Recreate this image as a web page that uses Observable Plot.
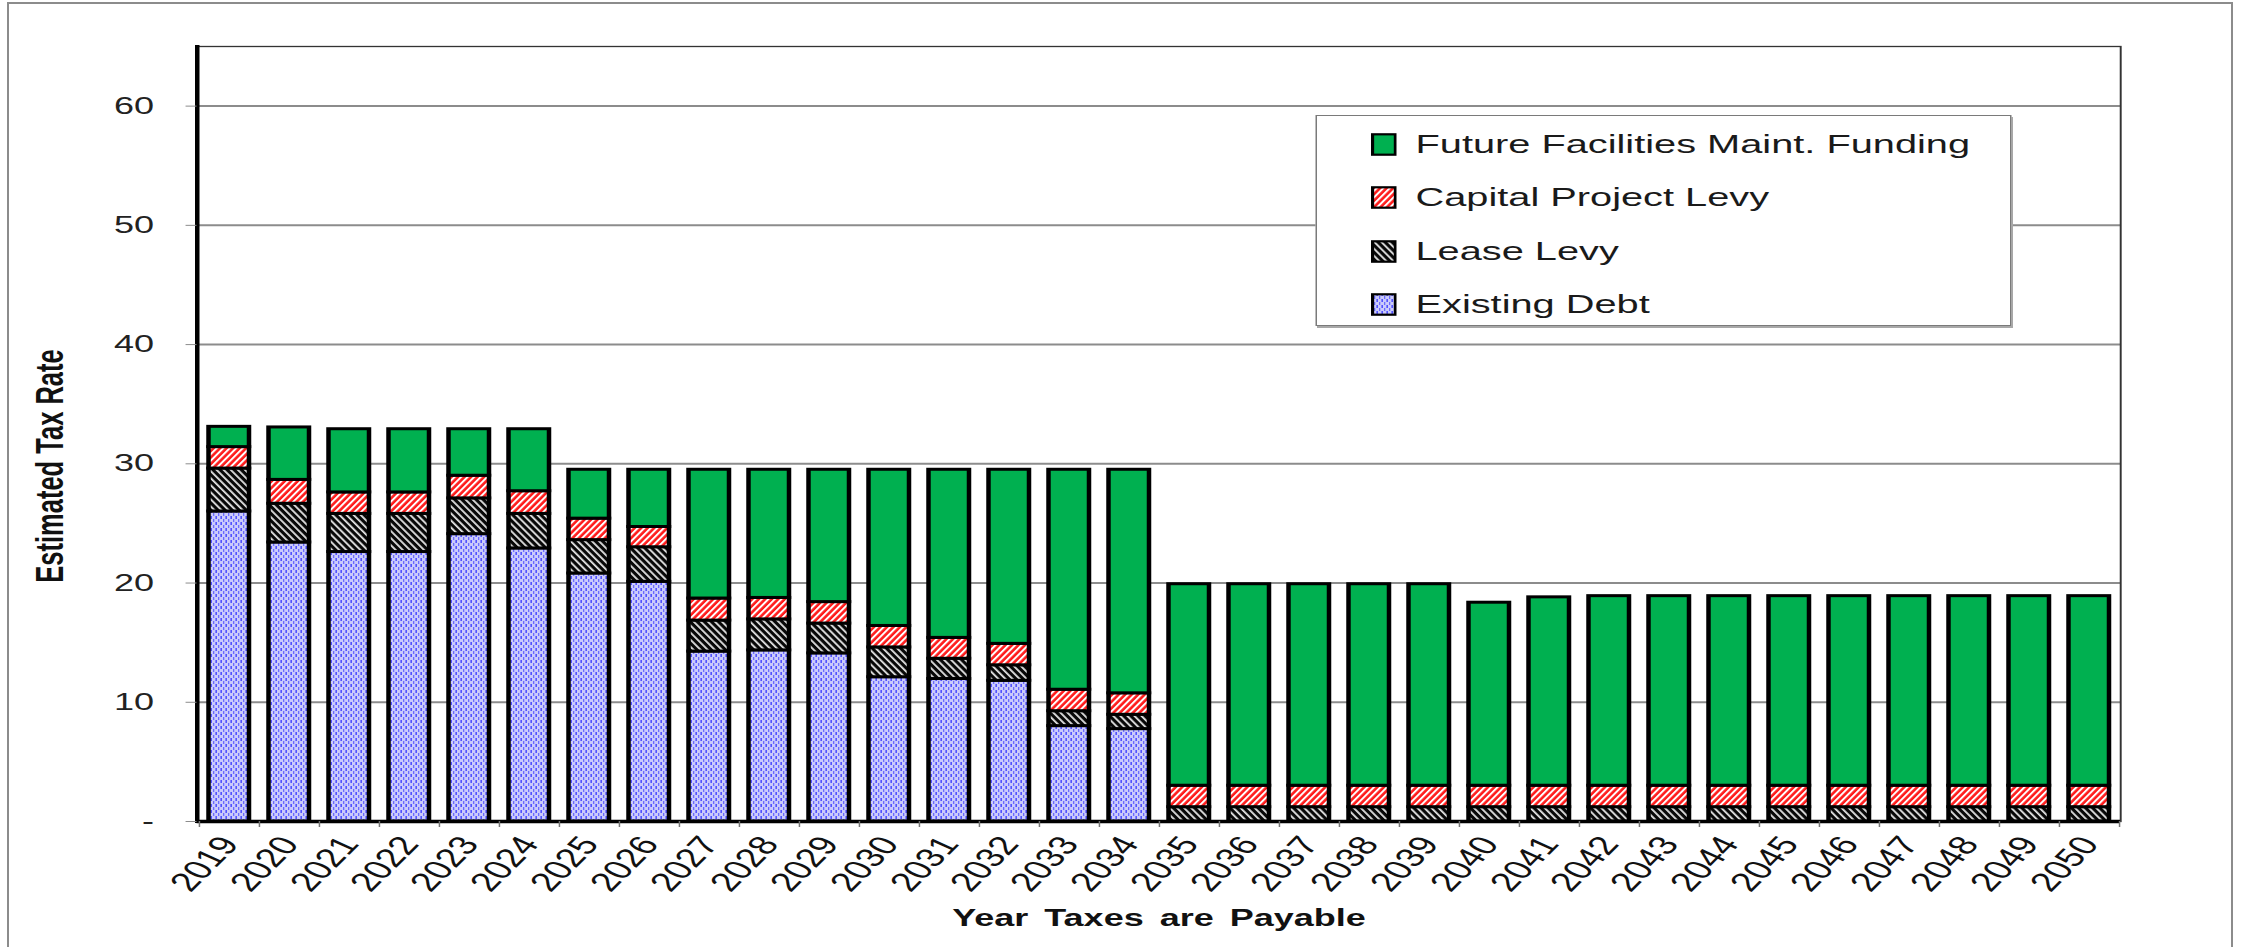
<!DOCTYPE html>
<html>
<head>
<meta charset="utf-8">
<script src="https://cdn.jsdelivr.net/npm/d3@7"></script>
<script src="https://cdn.jsdelivr.net/npm/@observablehq/plot@0.6"></script>
<style>
  html, body { margin: 0; padding: 0; background: #fff; }
  #page { position: relative; width: 2244px; height: 947px; overflow: hidden; background: #fff; }
  #border { position: absolute; left: 7px; top: 2px; width: 2226px; height: 1000px; box-sizing: border-box;
            border: 2px solid #8c8c8c; border-bottom: none; }
  #stretch { position: absolute; left: 0; top: 0; width: 1496px; height: 947px; transform: scaleX(1.5); transform-origin: 0 0; }
  #legend { position: absolute; left: 876.7px; top: 114.5px; width: 464.7px; height: 211.5px; box-sizing: border-box;
            border: 1.3px solid #7a7a7a; box-shadow: 1px 2px 0 #a8a8a8; background: #fff;
            font-family: "Liberation Sans", Arial, sans-serif; font-size: 26.5px; color: #1a1a1a; }
  .row { position: absolute; left: 36px; height: 30px; display: flex; align-items: center; white-space: nowrap; }
  .row svg { display: block; margin-right: 12.7px; }
</style>
</head>
<body>
<div id="page">
  <div id="border"></div>
  <div id="stretch"><div id="legend"></div></div>
</div>
<script>
// ---- data ----
const years = [2019, 2020, 2021, 2022, 2023, 2024, 2025, 2026, 2027, 2028, 2029, 2030, 2031, 2032, 2033, 2034,
               2035, 2036, 2037, 2038, 2039, 2040, 2041, 2042, 2043, 2044, 2045, 2046, 2047, 2048, 2049, 2050];
const existingDebt = [26.0, 23.4, 22.6, 22.6, 24.1, 22.9, 20.8, 20.1, 14.25, 14.35, 14.1, 12.1, 11.95, 11.8, 8.0, 7.75,
                      0, 0, 0, 0, 0, 0, 0, 0, 0, 0, 0, 0, 0, 0, 0, 0];
const leaseLevy = [3.6, 3.25, 3.2, 3.2, 3.0, 2.9, 2.8, 2.9, 2.6, 2.6, 2.5, 2.5, 1.7, 1.3, 1.25, 1.2,
                   1.2, 1.2, 1.2, 1.2, 1.2, 1.2, 1.2, 1.2, 1.2, 1.2, 1.2, 1.2, 1.2, 1.2, 1.2, 1.2];
const capitalProjectLevy = [1.8, 2.0, 1.8, 1.8, 1.9, 1.9, 1.8, 1.7, 1.85, 1.8, 1.8, 1.8, 1.75, 1.8, 1.8, 1.8,
                            1.8, 1.8, 1.8, 1.8, 1.8, 1.8, 1.8, 1.8, 1.8, 1.8, 1.8, 1.8, 1.8, 1.8, 1.8, 1.8];
const futureFacilitiesMaint = [1.7, 4.4, 5.3, 5.3, 3.9, 5.2, 4.1, 4.8, 10.8, 10.75, 11.1, 13.1, 14.1, 14.6, 18.45, 18.75,
                               16.9, 16.9, 16.9, 16.9, 16.9, 15.35, 15.8, 15.9, 15.9, 15.9, 15.9, 15.9, 15.9, 15.9, 15.9, 15.9];
const seriesNames = ["Existing Debt", "Lease Levy", "Capital Project Levy", "Future Facilities Maint. Funding"];
const yTicks = [0, 10, 20, 30, 40, 50, 60];
const xTitle = "Year Taxes are Payable";
const yTitle = "Estimated Tax Rate";

// ---- table built from the arrays ----
const seriesValues = [existingDebt, leaseLevy, capitalProjectLevy, futureFacilitiesMaint];
const table = years.flatMap((year, i) =>
  seriesNames.map((series, s) => ({year, series, value: seriesValues[s][i]}))
).filter(d => d.value > 0);

const fills = ["url(#pat-debt)", "url(#pat-lease)", "url(#pat-capital)", "#00b050"];

const W = 1496, H = 947;
const mL = 131, mR = 82.7, mT = 46, mB = 126;
const step = (W - mL - mR) / years.length;
const FONT = '"Liberation Sans", Arial, Helvetica, sans-serif';

const chart = Plot.plot({
  width: W, height: H,
  marginLeft: mL, marginRight: mR, marginTop: mT, marginBottom: mB,
  style: {fontFamily: FONT, background: "transparent", color: "#111", overflow: "visible"},
  x: {type: "band", domain: years, paddingInner: 0.32, paddingOuter: 0.16, label: null},
  y: {domain: [0, 65], label: null},
  color: {domain: seriesNames, range: fills},
  marks: [
    Plot.gridY({ticks: yTicks.filter(d => d > 0), stroke: "#8c8c8c", strokeOpacity: 1, strokeWidth: 2}),
    Plot.frame({stroke: "#333", strokeWidth: 1.3}),
    Plot.barY(table, {x: "year", y: "value", fill: "series", order: seriesNames, stroke: "#000", strokeWidth: 3}),
    Plot.frame({anchor: "left", stroke: "#000", strokeWidth: 3}),
    Plot.ruleY([0], {stroke: "#000", strokeWidth: 3.5}),
    Plot.axisY({ticks: yTicks, tickSize: 7.3, tickPadding: 21.5, fontSize: 24, stroke: "#8c8c8c", fill: "#222",
                tickFormat: d => d === 0 ? "-" : String(d), label: null}),
    Plot.axisX({ticks: years, tickSize: 6, text: null, dx: -step / 2, stroke: "#777", label: null}),
    Plot.axisX({ticks: [years[years.length - 1]], tickSize: 6, text: null, dx: step / 2, stroke: "#777", label: null}),
    Plot.axisX({tickSize: 0, tickPadding: 18, tickRotate: -56, fontSize: 26.5, fill: "#111",
                tickFormat: d => String(d), label: null}),
    Plot.text([yTitle], {frameAnchor: "left", dx: -107.7, dy: 32, rotate: -90, lineAnchor: "top", textAnchor: "middle",
                         fontWeight: "bold", fontSize: 25.5, fill: "#111"}),
    Plot.text([xTitle], {frameAnchor: "bottom", dy: 104, lineAnchor: "bottom", textAnchor: "middle",
                         fontWeight: "bold", fontSize: 24, fill: "#111"})
  ]
});

// ---- fill patterns ----
const defs = d3.select(chart).insert("defs", ":first-child");
function stripes(id, bg, fg, size, stripeW, angle) {
  const p = defs.append("pattern").attr("id", id).attr("patternUnits", "userSpaceOnUse")
    .attr("width", size).attr("height", size)
    .attr("patternTransform", `scale(${1 / 1.5},1) rotate(${angle})`);
  p.append("rect").attr("width", size).attr("height", size).attr("fill", bg);
  p.append("rect").attr("width", stripeW).attr("height", size).attr("fill", fg);
}
stripes("pat-capital", "#ff1a1a", "#ffffff", 4.6, 2.0, 45);
stripes("pat-lease", "#080808", "#e6e6e6", 5.0, 1.8, -45);
const pd = defs.append("pattern").attr("id", "pat-debt").attr("patternUnits", "userSpaceOnUse")
  .attr("width", 5).attr("height", 6).attr("patternTransform", `scale(${1 / 1.5},1)`);
pd.append("rect").attr("width", 5).attr("height", 6).attr("fill", "#cacafb");
pd.append("rect").attr("x", 0.5).attr("y", 0).attr("width", 1.3).attr("height", 3).attr("fill", "#3535ff");
pd.append("rect").attr("x", 3).attr("y", 3).attr("width", 1.3).attr("height", 3).attr("fill", "#6a6aff");

d3.select(chart).selectAll("text").filter(function () { return this.textContent === xTitle; })
  .style("word-spacing", "4px");

document.getElementById("stretch").prepend(chart);

// ---- legend (inside the plot area, top right) ----
const legend = d3.select("#legend");
const legendOrder = seriesNames.map((name, i) => ({name, fill: fills[i]})).reverse();
const rowTops = [13.5, 67, 120.5, 174];
legendOrder.forEach((d, i) => {
  const row = legend.append("div").attr("class", "row").style("top", rowTops[i] + "px");
  const sw = row.append("svg").attr("width", 17.3).attr("height", 23);
  sw.append("rect").attr("x", 1).attr("y", 1.3).attr("width", 15.3).attr("height", 20.4)
    .attr("fill", d.fill).attr("stroke", "#000").attr("stroke-width", 2.2);
  row.append("span").text(d.name);
});
</script>
</body>
</html>
